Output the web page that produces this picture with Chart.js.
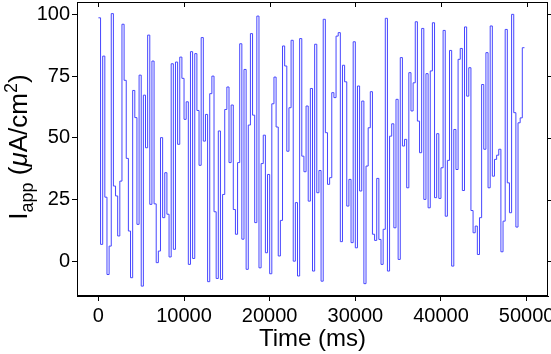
<!DOCTYPE html>
<html>
<head>
<meta charset="utf-8">
<script src="https://cdn.jsdelivr.net/npm/chart.js@4.4.1/dist/chart.umd.min.js"></script>
<style>
  html, body { margin: 0; padding: 0; background: #fff; }
  canvas { display: block; }
</style>
</head>
<body>
<canvas id="iappChart" width="551" height="354"></canvas>
<script>
/* applied current: a new level every 250 ms */
const STEP_MS = 250;

const iappValues = [
  98.6, 6.9, 83.1, 26.0, -5.3, 6.2, 100.3, 30.5, 26.5, 10.3, 32.5, 96.0, 73.3, 41.7, 12.3, -6.6,
  69.2, 58.2, 15.0, 75.4, -10.0, 67.3, 46.0, 91.6,
  23.1, 81.1, 23.3, -0.5, 4.2, 50.1, 17.7, 35.9, 19.1, 1.8, 80.0, 4.9, 80.7, 47.4, 82.7, 74.1,
  57.5, 64.6, -1.2, 84.9, 1.2, 84.1, 61.1, 38.9, 90.6, 48.7, 59.5,
  -8.2, 67.9, 75.0, 20.1, -6.9, 52.8, -7.3, 27.1, 61.5, 70.6, 40.0, 63.3, 21.0, 11.0, 40.0, 88.1,
  9.0, 77.7, -3.2, 55.2, 92.2, 59.2, 15.7, 99.3, -2.6, 39.6, 51.1,
  3.5, 35.2, -5.0, 63.8, 74.6, 54.4, 2.2, 16.6, 87.2, 79.1, 44.6, 62.2, 89.5, 0.1, 23.8, -5.9,
  90.2, 42.6, 36.3, 62.9, 24.4, 70.0, -3.9, 87.9, 27.8, 36.8,
  -8.0, 98.0, 52.1, 31.2, 33.9, 68.3, 66.3, 91.2, 92.6, 8.0, 79.4, 72.7, 22.4, 33.2, 7.6, 88.9,
  5.5, 71.0, 28.5, 64.9, -9.0, 38.6, 54.1, 68.7, 11.0, 8.5, 33.6,
  8.9, -1.2, 13.0, 98.4, -3.9, 50.7, 55.7, 13.6, 65.6, 0.8, 82.5, 46.7, 49.4, 29.8, 76.4, 60.9,
  72.3, 97.0, 56.8, 44.0, 94.3, 25.1, 76.0, 21.7, 77.1, 96.6, 25.8, 51.7,
  25.5, 37.9, 93.5, 18.3, 40.9, 85.4, -1.9, 53.4, 37.2, 81.8, 86.2, 28.7, 94.9, 66.9, 78.4, 20.6,
  11.6, 14.3, 2.8, 17.7, 71.6, 45.4, 84.5, 29.8, 95.3, 34.5, 41.3, 43.0, 45.4, 3.9, 16.3, 93.9,
  31.8, 19.7, 100.0, 60.2, 13.9, 56.1, 58.1, 86.5
];

const xTicks = [0, 10000, 20000, 30000, 40000, 50000];
const yTicks = [0, 25, 50, 75, 100];

const X_MIN = -2500, X_MAX = 52500;
const Y_MIN = -14, Y_MAX = 105;

// points for the stepped line, plus one closing point for the last level
const points = iappValues.map((v, i) => ({ x: i * STEP_MS, y: v }));
points.push({ x: iappValues.length * STEP_MS, y: iappValues[iappValues.length - 1] });

const FONT = "'Liberation Sans', Arial, sans-serif";

/* box round the plot with mirrored ticks on top and right */
const frameTicks = {
  id: 'frameTicks',
  afterDraw(chart) {
    const { ctx, chartArea: a, scales } = chart;
    ctx.save();
    ctx.strokeStyle = '#000';
    ctx.lineWidth = 1;
    ctx.strokeRect(a.left + 0.5, a.top + 0.5, a.right - a.left - 1, a.bottom - a.top - 1);
    ctx.beginPath();
    xTicks.forEach(v => {
      const x = Math.round(scales.x.getPixelForValue(v)) + 0.5;
      ctx.moveTo(x, a.top);
      ctx.lineTo(x, a.top + 5);
    });
    yTicks.forEach(v => {
      const y = Math.round(scales.y.getPixelForValue(v)) + 0.5;
      ctx.moveTo(a.right, y);
      ctx.lineTo(a.right + 5, y);
    });
    ctx.stroke();
    ctx.restore();
  }
};

/* y title: I_app (μA/cm²) with sub- and superscript */
const yTitle = {
  id: 'yTitle',
  afterDraw(chart) {
    const { ctx, chartArea: a } = chart;
    const big = 26, small = 18;
    const parts = [
      { t: 'I', f: `${big}px ${FONT}`, dy: 0 },
      { t: 'app', f: `${small}px ${FONT}`, dy: 6 },
      { t: ' (', f: `${big}px ${FONT}`, dy: 0 },
      { t: 'μ', f: `italic ${big}px ${FONT}`, dy: 0 },
      { t: 'A/cm', f: `${big}px ${FONT}`, dy: 0 },
      { t: '2', f: `${small}px ${FONT}`, dy: -10 },
      { t: ')', f: `${big}px ${FONT}`, dy: 0 }
    ];
    ctx.save();
    let total = 0;
    parts.forEach(p => { ctx.font = p.f; p.w = ctx.measureText(p.t).width; total += p.w; });
    ctx.translate(27, (a.top + a.bottom) / 2 - 2);
    ctx.rotate(-Math.PI / 2);
    ctx.fillStyle = '#000';
    ctx.textBaseline = 'alphabetic';
    let x = -total / 2;
    parts.forEach(p => {
      ctx.font = p.f;
      ctx.fillText(p.t, x, p.dy);
      x += p.w;
    });
    ctx.restore();
  }
};

new Chart(document.getElementById('iappChart'), {
  type: 'line',
  data: {
    datasets: [{
      data: points,
      borderColor: '#4646ff',
      borderWidth: 1,
      stepped: 'before',
      fill: false,
      pointRadius: 0
    }]
  },
  options: {
    responsive: false,
    animation: false,
    devicePixelRatio: 1,
    layout: { padding: { top: 2, right: 3, left: 0, bottom: 0 } },
    plugins: { legend: { display: false }, tooltip: { enabled: false } },
    scales: {
      x: {
        type: 'linear',
        min: X_MIN,
        max: X_MAX,
        afterBuildTicks: s => { s.ticks = xTicks.map(v => ({ value: v })); },
        afterFit: s => { s.height = 58; s.paddingLeft = 0; s.paddingRight = 0; },
        ticks: {
          color: '#000',
          font: { family: FONT, size: 20 },
          maxRotation: 0,
          autoSkip: false,
          padding: 3,
          callback: v => String(v)
        },
        grid: { drawOnChartArea: false, drawTicks: true, tickLength: 5, color: '#000' },
        border: { display: true, color: '#000' },
        title: {
          display: true,
          text: 'Time (ms)',
          color: '#000',
          font: { family: FONT, size: 24 },
          padding: 0
        }
      },
      y: {
        min: Y_MIN,
        max: Y_MAX,
        afterBuildTicks: s => { s.ticks = yTicks.map(v => ({ value: v })); },
        afterFit: s => { s.width = 77; s.paddingTop = 0; s.paddingBottom = 0; },
        ticks: {
          color: '#000',
          font: { family: FONT, size: 20 },
          padding: 2,
          autoSkip: false
        },
        grid: { drawOnChartArea: false, drawTicks: true, tickLength: 5, color: '#000' },
        border: { display: true, color: '#000' }
      }
    }
  },
  plugins: [frameTicks, yTitle]
});
</script>
</body>
</html>
